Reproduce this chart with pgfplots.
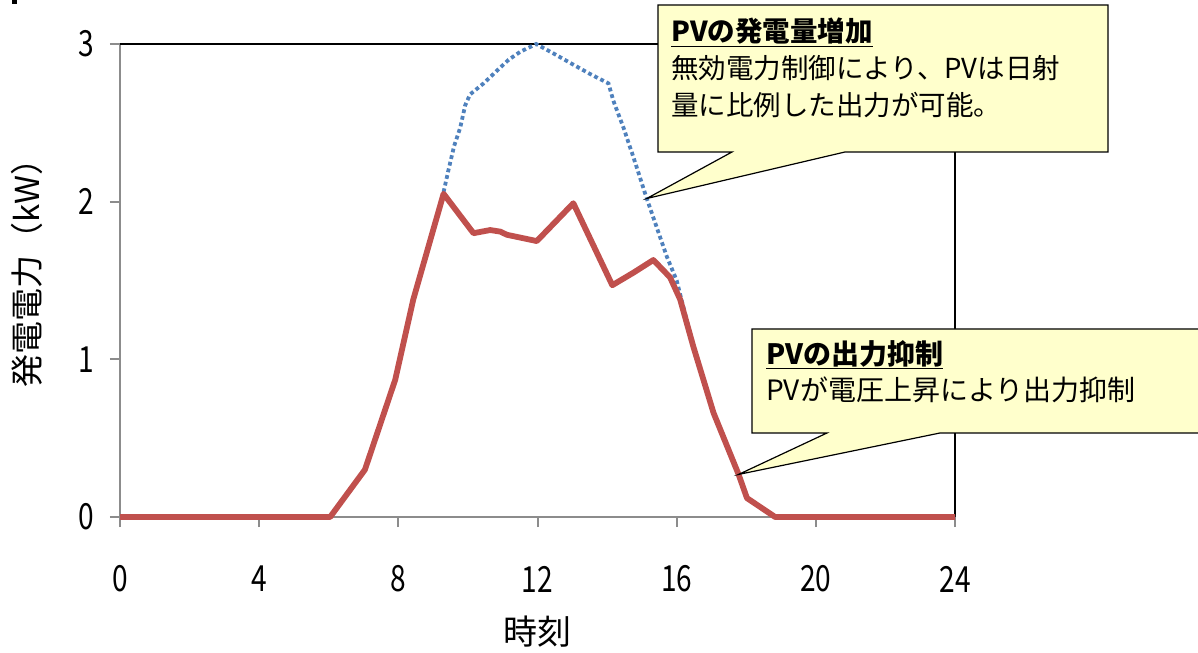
\documentclass[border=0pt]{standalone}
\usepackage{fontspec}
\setmainfont{Noto Sans CJK JP}
\usepackage{graphicx}
\usepackage{pgfplots}
\pgfplotsset{compat=1.18}

\definecolor{pvred}{HTML}{C0504D}
\definecolor{pvblue}{HTML}{4F81BD}
\definecolor{notefill}{HTML}{FFFFCC}
\definecolor{axgray}{HTML}{8C8C8C}

\newcommand{\narrow}[1]{\scalebox{0.78}[1]{#1}}

% PV output without voltage-rise curtailment (potential)
\pgfplotstableread{
h     p
0     0
6.04  0
7.04  0.30
7.91  0.87
8.43  1.38
9.30  2.06
9.44  2.20
9.60  2.35
9.78  2.47
9.92  2.61
10.06 2.68
10.45 2.75
10.83 2.83
11.17 2.90
11.50 2.95
11.96 3.00
12.46 2.94
12.94 2.88
13.51 2.81
14.04 2.75
14.18 2.64
14.47 2.47
14.76 2.28
15.14 2.02
15.72 1.65
16.00 1.50
16.48 1.08
17.06 0.66
17.78 0.27
18.02 0.12
18.83 0
24    0
}\potential

% PV output with curtailment
\pgfplotstableread{
h     p
0     0
6.04  0
7.04  0.30
7.91  0.87
8.43  1.38
9.30  2.05
10.16 1.80
10.64 1.82
10.93 1.81
11.12 1.79
11.98 1.75
13.03 1.99
14.15 1.47
14.76 1.55
15.33 1.63
15.81 1.52
16.10 1.38
16.48 1.08
17.06 0.66
17.78 0.27
18.02 0.12
18.83 0
24    0
}\curtailed

\begin{document}
\begin{tikzpicture}
\useasboundingbox (0,0) rectangle (1198bp,653bp);
\fill[black] (12bp,649bp) rectangle (17bp,653bp);
\begin{axis}[
  at={(120bp,136bp)}, anchor=south west,
  scale only axis, width=835bp, height=473bp,
  xmin=0, xmax=24, ymin=0, ymax=3,
  clip=false,
  axis x line*=bottom, axis y line*=left,
  axis line style={draw=axgray, line width=2.2bp, -},
  xtick={0,4,...,24}, ytick={0,1,2,3},
  tick align=outside, major tick length=10bp,
  tick style={draw=axgray, line width=2bp},
  /pgf/number format/assume math mode=true,
  xticklabel={\narrow{\pgfmathprintnumber{\tick}}},
  yticklabel={\narrow{\pgfmathprintnumber{\tick}}},
  ticklabel style={font=\fontsize{36bp}{38bp}\selectfont, inner sep=0pt},
  x tick label style={anchor=center, yshift=-52bp},
  y tick label style={anchor=east, xshift=-16bp},
  xlabel={時刻},
  ylabel={発電電力（kW）},
  xlabel style={font=\fontsize{34bp}{36bp}\selectfont, at={(axis description cs:0.5,-0.243)}, anchor=center},
  ylabel style={font=\fontsize{33bp}{36bp}\selectfont, at={(axis description cs:-0.112,0.533)}, anchor=center},
]
  % frame: top and right edges
  \draw[black, line width=2.2bp] (rel axis cs:0,1) -- (rel axis cs:1,1) -- (rel axis cs:1,0);
  \addplot[pvblue, line width=3.8bp, dash pattern=on 3.8bp off 3bp, no markers]
    table[x=h, y=p] {\potential};
  \addplot[pvred, line width=5.8bp, line join=round, no markers]
    table[x=h, y=p] {\curtailed};
  \coordinate (tipA) at (axis cs:15.14,2.02);
  \coordinate (tipB) at (axis cs:17.78,0.27);
\end{axis}

\begin{scope}[x=1bp, y=-1bp, shift={(0,653bp)}]
  % callout: potential output
  \filldraw[fill=notefill, draw=black, line width=1.2bp, line join=miter]
    (658,5) -- (1108,5) -- (1108,152) -- (845,152) -- (tipA) -- (732,152) -- (658,152) -- cycle;
  \node[anchor=north west, inner sep=0pt, align=left,
        font=\fontsize{27.5bp}{37bp}\selectfont] at (671,18)
    {\textbf{\underline{PVの発電量増加}}\\無効電力制御により、PVは日射\\量に比例した出力が可能。};
  % callout: curtailed output
  \filldraw[fill=notefill, draw=black, line width=1.2bp, line join=miter]
    (752,329) -- (1210,329) -- (1210,433) -- (940,433) -- (tipB) -- (827,433) -- (752,433) -- cycle;
  \node[anchor=north west, inner sep=0pt, align=left,
        font=\fontsize{28bp}{36bp}\selectfont] at (766,340)
    {\textbf{\underline{PVの出力抑制}}\\PVが電圧上昇により出力抑制};
\end{scope}
\end{tikzpicture}
\end{document}
